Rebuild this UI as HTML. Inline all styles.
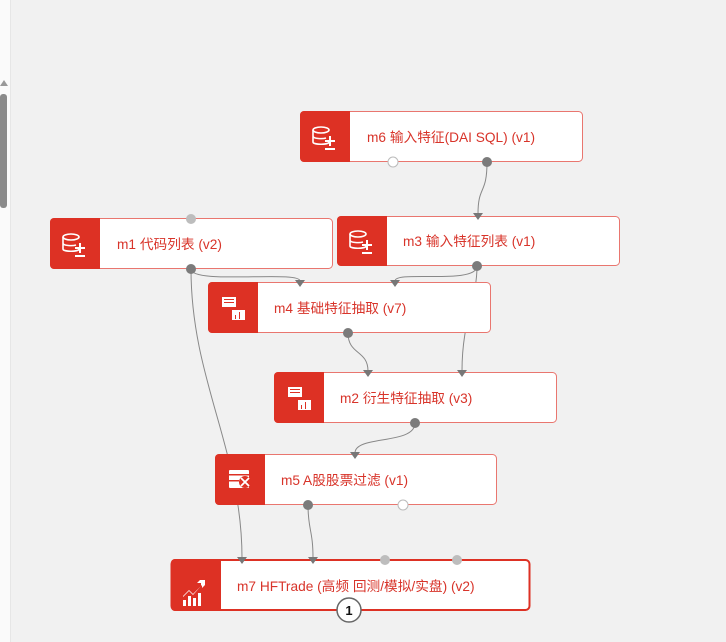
<!DOCTYPE html>
<html><head><meta charset="utf-8"><style>
html,body{margin:0;padding:0;width:726px;height:642px;overflow:hidden;background:#f1f1f1;font-family:"Liberation Sans","Noto Sans CJK SC",sans-serif}
</style></head><body>
<svg width="726" height="642" xmlns="http://www.w3.org/2000/svg" style="position:absolute;left:0;top:0">
<rect x="0" y="0" width="10" height="642" fill="#fafafa"/>
<line x1="10.5" y1="0" x2="10.5" y2="642" stroke="#e6e6e6"/>
<rect x="0" y="94" width="7" height="114" rx="3" fill="#8a8a8a"/>
<polygon points="0,86 4,80 8,86" fill="#999"/>
<g fill="none" stroke="#888" stroke-width="1">
<path d="M487 162 C487 195,478 185,478 214"/>
<path d="M191 269 C191 285,300 270,300 281"/>
<path d="M191 269 C191 380,242 450,242 558"/>
<path d="M477 266 C477 285,395 270,395 281"/>
<path d="M477 266 C477 300,462 320,462 371"/>
<path d="M348 333 C348 355,368 350,368 371"/>
<path d="M415 423 C415 445,355 435,355 453"/>
<path d="M308 505 C308 530,313 530,313 558"/>
</g>
<g font-size="13.7" fill="#d8342a">
<!-- m6 -->
<rect x="300.5" y="111.5" width="282" height="50" rx="4" fill="#fff" stroke="#e9766f"/>
<path d="M304 111 h46 v51 h-46 a4 4 0 0 1 -4 -4 v-43 a4 4 0 0 1 4 -4z" fill="#dd3124"/>
<text x="367" y="142">m6 输入特征(DAI SQL) (v1)</text>
<!-- m1 -->
<rect x="50.5" y="218.5" width="282" height="50" rx="4" fill="#fff" stroke="#e9766f"/>
<path d="M54 218 h46 v51 h-46 a4 4 0 0 1 -4 -4 v-43 a4 4 0 0 1 4 -4z" fill="#dd3124"/>
<text x="117" y="249">m1 代码列表 (v2)</text>
<!-- m3 -->
<rect x="337.5" y="216.5" width="282" height="49" rx="4" fill="#fff" stroke="#e9766f"/>
<path d="M341 216 h46 v50 h-46 a4 4 0 0 1 -4 -4 v-42 a4 4 0 0 1 4 -4z" fill="#dd3124"/>
<text x="403" y="246">m3 输入特征列表 (v1)</text>
<!-- m4 -->
<rect x="208.5" y="282.5" width="282" height="50" rx="4" fill="#fff" stroke="#e9766f"/>
<path d="M212 282 h46 v51 h-46 a4 4 0 0 1 -4 -4 v-43 a4 4 0 0 1 4 -4z" fill="#dd3124"/>
<text x="274" y="313">m4 基础特征抽取 (v7)</text>
<!-- m2 -->
<rect x="274.5" y="372.5" width="282" height="50" rx="4" fill="#fff" stroke="#e9766f"/>
<path d="M278 372 h46 v51 h-46 a4 4 0 0 1 -4 -4 v-43 a4 4 0 0 1 4 -4z" fill="#dd3124"/>
<text x="340" y="403">m2 衍生特征抽取 (v3)</text>
<!-- m5 -->
<rect x="215.5" y="454.5" width="281" height="50" rx="4" fill="#fff" stroke="#e9766f"/>
<path d="M219 454 h46 v51 h-46 a4 4 0 0 1 -4 -4 v-43 a4 4 0 0 1 4 -4z" fill="#dd3124"/>
<text x="281" y="485">m5 A股股票过滤 (v1)</text>
<!-- m7 -->
<rect x="171.5" y="560" width="358" height="50" rx="4" fill="#fff" stroke="#dd3124" stroke-width="2"/>
<path d="M175 559 h46 v52 h-46 a4 4 0 0 1 -4 -4 v-44 a4 4 0 0 1 4 -4z" fill="#dd3124"/>
<text x="237" y="591">m7 HFTrade (高频 回测/模拟/实盘) (v2)</text>
</g>
<g fill="#777">
<polygon points="473,213 483,213 478,220"/>
<polygon points="295,280 305,280 300,287"/>
<polygon points="390,280 400,280 395,287"/>
<polygon points="363,370 373,370 368,377"/>
<polygon points="457,370 467,370 462,377"/>
<polygon points="350,452 360,452 355,459"/>
<polygon points="237,557 247,557 242,564"/>
<polygon points="308,557 318,557 313,564"/>
</g>
<!-- icons -->
<g fill="none" stroke="#fff" stroke-width="1.6">
<g transform="translate(312,127)"><ellipse cx="9" cy="3" rx="8" ry="3"/><path d="M1 3 v12 c0 3 16 3 16 0 M1 9 c0 3 10 3 13 2"/></g>
<g transform="translate(62,234)"><ellipse cx="9" cy="3" rx="8" ry="3"/><path d="M1 3 v12 c0 3 16 3 16 0 M1 9 c0 3 10 3 13 2"/></g>
<g transform="translate(349,231)"><ellipse cx="9" cy="3" rx="8" ry="3"/><path d="M1 3 v12 c0 3 16 3 16 0 M1 9 c0 3 10 3 13 2"/></g>
</g>
<g fill="#fff">
<rect x="325" y="140" width="10" height="2"/><rect x="329" y="136" width="2" height="10"/><rect x="325" y="148" width="10" height="2"/>
<rect x="75" y="247" width="10" height="2"/><rect x="79" y="243" width="2" height="10"/><rect x="75" y="255" width="10" height="2"/>
<rect x="362" y="244" width="10" height="2"/><rect x="366" y="240" width="2" height="10"/><rect x="362" y="252" width="10" height="2"/>
<rect x="222" y="297" width="14" height="10"/><rect x="232" y="310" width="13" height="10"/>
<rect x="288" y="387" width="14" height="10"/><rect x="298" y="400" width="13" height="10"/>
<rect x="229" y="470" width="20" height="18" rx="1"/>
<path d="M183 597 l6 -6 4 4 8 -9 v-3 h-4 l3 -3 h5 v5 l-3 3 v-3 l-9 9 -4 -4 -6 6z"/>
<rect x="183" y="600" width="3" height="6"/><rect x="188" y="596" width="3" height="10"/><rect x="193" y="598" width="3" height="8"/><rect x="198" y="593" width="3" height="13"/>
</g>
<g fill="#dd3124"><rect x="224" y="299" width="10" height="1"/><rect x="224" y="302" width="10" height="1"/><rect x="235" y="315" width="1" height="4"/><rect x="239" y="312" width="1" height="7"/><rect x="290" y="389" width="10" height="1"/><rect x="290" y="392" width="10" height="1"/><rect x="301" y="405" width="1" height="4"/><rect x="305" y="402" width="1" height="7"/><rect x="229" y="474" width="20" height="1.5"/><rect x="229" y="480" width="10" height="1.5"/><circle cx="245" cy="482" r="6"/></g>
<path d="M241 478 l8 8 M249 478 l-8 8" stroke="#fff" stroke-width="1.8"/>
<!-- ports -->
<g stroke="#bbb" stroke-width="1">
<circle cx="393" cy="162" r="5" fill="#fff"/>
<circle cx="403" cy="505" r="5" fill="#fff"/>
</g>
<g fill="#7b7b7b">
<circle cx="487" cy="162" r="5"/><circle cx="191" cy="269" r="5"/><circle cx="477" cy="266" r="5"/>
<circle cx="348" cy="333" r="5"/><circle cx="415" cy="423" r="5"/><circle cx="308" cy="505" r="5"/>
</g>
<g fill="#bdbdbd">
<circle cx="191" cy="219" r="5"/><circle cx="385" cy="560" r="5"/><circle cx="457" cy="560" r="5"/>
</g>
<circle cx="349" cy="610" r="12" fill="#fff" stroke="#666" stroke-width="1.5"/>
<text x="349" y="615" font-size="13" font-weight="bold" text-anchor="middle" fill="#111">1</text>
</svg>
</body></html>
